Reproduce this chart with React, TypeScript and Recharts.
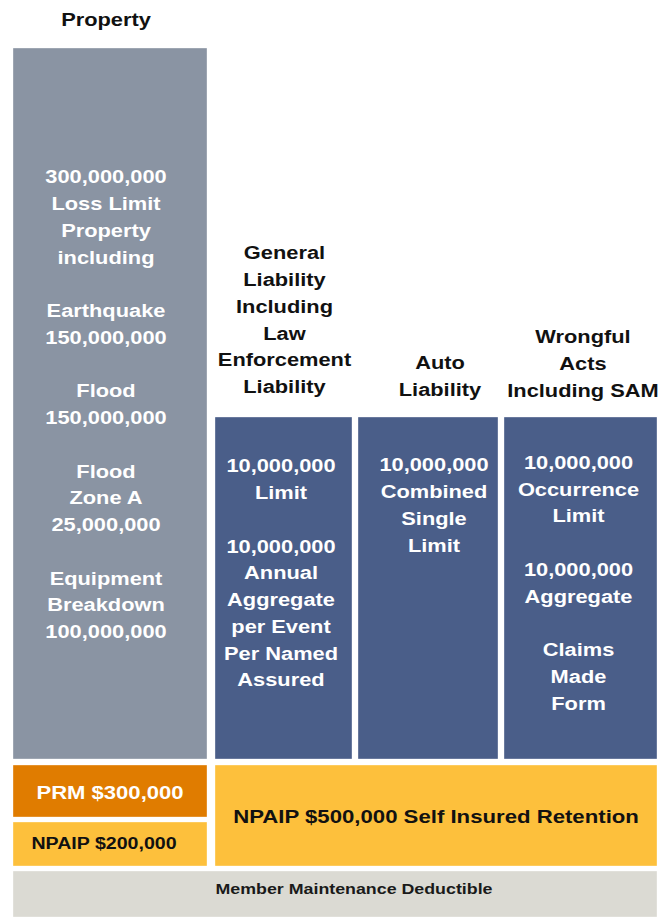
import { ComposedChart, XAxis, YAxis, ReferenceArea } from "recharts";

// tower blocks, in chart units (x: 0..661 across, y: 0..917 down)
const blockNames = [
  "Property",
  "General Liability",
  "Auto Liability",
  "Wrongful Acts",
  "PRM",
  "NPAIP Property",
  "NPAIP SIR",
  "Member Maintenance Deductible",
];
const blockLeft = [13, 215, 358, 504, 13, 13, 215, 13];
const blockRight = [207, 352, 498, 657, 207, 207, 657, 657];
const blockTop = [48, 417, 417, 417, 765, 822, 765, 871];
const blockBottom = [759, 759, 759, 759, 817, 866, 866, 917];

const headers: string[][] = [
  ["Property"],
  ["General", "Liability", "Including", "Law", "Enforcement", "Liability"],
  ["Auto", "Liability"],
  ["Wrongful", "Acts", "Including SAM"],
  [],
  [],
  [],
  [],
];

const bodies: string[][] = [
  [
    "300,000,000", "Loss Limit", "Property", "including", "",
    "Earthquake", "150,000,000", "",
    "Flood", "150,000,000", "",
    "Flood", "Zone A", "25,000,000", "",
    "Equipment", "Breakdown", "100,000,000",
  ],
  [
    "10,000,000", "Limit", "",
    "10,000,000", "Annual", "Aggregate", "per Event", "Per Named", "Assured",
  ],
  ["10,000,000", "Combined", "Single", "Limit"],
  [
    "10,000,000", "Occurrence", "Limit", "",
    "10,000,000", "Aggregate", "",
    "Claims", "Made", "Form",
  ],
  ["PRM $300,000"],
  ["NPAIP $200,000"],
  ["NPAIP $500,000 Self Insured Retention"],
  ["Member Maintenance Deductible"],
];

// styling / text placement
const fills = ["#8A94A3", "#4A5E89", "#4A5E89", "#4A5E89", "#E07C00", "#FDC03C", "#FDC03C", "#DBDAD3"];
const textColors = ["#fff", "#fff", "#fff", "#fff", "#fff", "#111", "#111", "#1a1a1a"];
const fontSizes = [18.5, 18.5, 18.5, 18.5, 18.7, 16.6, 18.8, 15.1];
const bodyDx = [-4, -2.5, 6, -2, 0, -6, 0, 19];
const bodyDy = [129, 49, 48, 45.5, 27, 22, 51, 18];
const headDx = [-4, 1, 12, 2.5, 0, 0, 0, 0];
const headDy = [-28, -164, -54, -80, 0, 0, 0, 0];
const LINE_H = 26.75;
const SCALE_X = 1.18;
const FONT = "'Liberation Sans', Arial, Helvetica, sans-serif";

function Lines({
  cx,
  y0,
  lines,
  size,
  color,
}: {
  cx: number;
  y0: number;
  lines: string[];
  size: number;
  color: string;
}) {
  return (
    <g>
      {lines.map((t, i) =>
        t ? (
          <text
            key={i}
            x={0}
            y={0}
            transform={`translate(${cx},${y0 + i * LINE_H}) scale(${SCALE_X},1)`}
            textAnchor="middle"
            dominantBaseline="central"
            fontFamily={FONT}
            fontWeight="bold"
            fontSize={size}
            fill={color}
          >
            {t}
          </text>
        ) : null
      )}
    </g>
  );
}

function blockLabel(i: number) {
  return (props: any) => {
    const vb = props.viewBox || {};
    const cx = vb.x + vb.width / 2;
    return (
      <g>
        {headers[i].length > 0 && (
          <Lines cx={cx + headDx[i]} y0={vb.y + headDy[i]} lines={headers[i]} size={18.5} color="#111" />
        )}
        <Lines cx={cx + bodyDx[i]} y0={vb.y + bodyDy[i]} lines={bodies[i]} size={fontSizes[i]} color={textColors[i]} />
      </g>
    );
  };
}

export default function App() {
  return (
    <div style={{ position: "absolute", left: 0, top: 0, width: 661, height: 917, background: "#fff" }}>
      <ComposedChart width={661} height={917} data={[]} margin={{ top: 0, right: 0, bottom: 0, left: 0 }}>
        <XAxis type="number" dataKey="x" domain={[0, 661]} hide allowDataOverflow />
        <YAxis type="number" dataKey="y" domain={[0, 917]} reversed hide allowDataOverflow />
        {blockNames.map((name, i) => (
          <ReferenceArea
            key={name}
            x1={blockLeft[i]}
            x2={blockRight[i]}
            y1={blockTop[i]}
            y2={blockBottom[i]}
            fill={fills[i]}
            fillOpacity={1}
            stroke="#ffffff"
            strokeOpacity={0.35}
            label={blockLabel(i)}
          />
        ))}
      </ComposedChart>
    </div>
  );
}
